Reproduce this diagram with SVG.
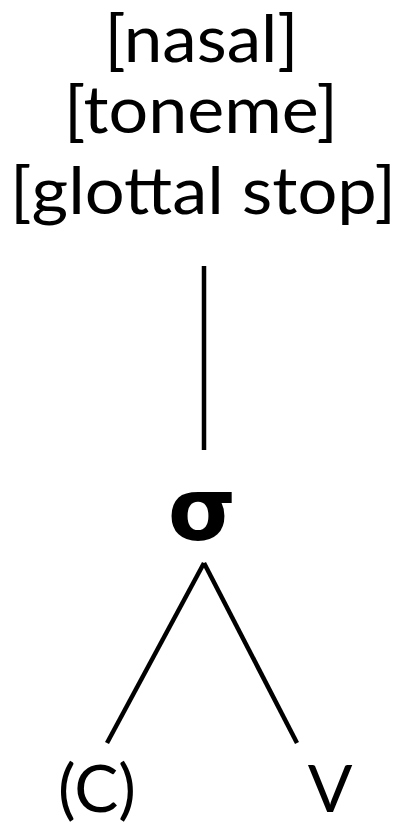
<svg xmlns="http://www.w3.org/2000/svg" width="398" height="827" viewBox="0 0 398 827">
<style>
.t{font-family:Lato,"Open Sans",sans-serif;font-size:66px;fill:#000;text-anchor:middle}
.b{font-family:Lato,"Open Sans",sans-serif;font-size:66px;fill:#000;text-anchor:middle}
.s{font-family:"DejaVu Sans",sans-serif;font-weight:bold;font-size:88px;fill:#000;text-anchor:middle}
.c{stroke:#000;stroke-width:4.5;fill:none}
</style>
<rect width="398" height="827" fill="#fff"/>
<g id="features">
<text class="t" x="201.5" y="62" textLength="194" lengthAdjust="spacingAndGlyphs">[nasal]</text>
<text class="t" x="201" y="133" textLength="274" lengthAdjust="spacingAndGlyphs">[toneme]</text>
<text class="t" x="203" y="214" textLength="386" lengthAdjust="spacingAndGlyphs">[glottal stop]</text>
</g>
<g id="sigma"><text class="s" x="202" y="540">σ</text></g>
<g id="C"><text class="b" x="97" y="812">(C)</text></g>
<g id="V"><text class="b" x="330" y="812">V</text></g>
<g id="connectors">
<line class="c" x1="204" y1="266" x2="204" y2="450"/>
<line class="c" x1="204" y1="563" x2="107" y2="743"/>
<line class="c" x1="204" y1="563" x2="297" y2="743"/>
</g>
</svg>
